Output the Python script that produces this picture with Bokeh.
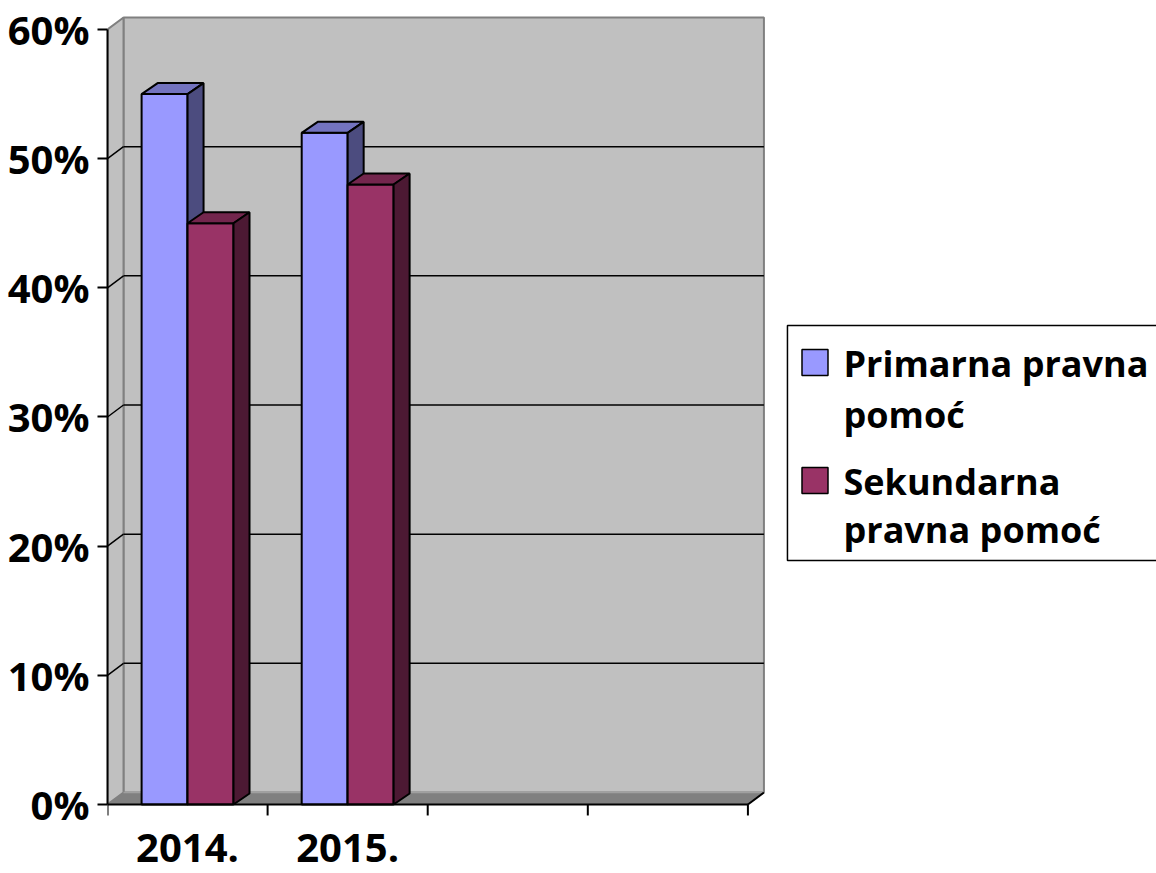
from bokeh.plotting import figure
from bokeh.models import Range1d, FixedTicker
from bokeh.core.properties import value
from bokeh.embed import file_html
from bokeh.resources import INLINE

# ---------------- data ----------------
categories = ["2014.", "2015."]
primarna = [55, 52]
sekundarna = [45, 48]
series_names = ["Primarna pravna pomoć", "Sekundarna pravna pomoć"]
legend_lines = [["Primarna pravna", "pomoć"], ["Sekundarna", "pravna pomoć"]]
y_ticks = [0, 10, 20, 30, 40, 50, 60]
y_tick_labels = ["0%", "10%", "20%", "30%", "40%", "50%", "60%"]

# ---------------- style ----------------
N_SLOTS = 4
Y_MAX = 60
WALL_DX, WALL_DY = 0.10, 0.93
BAR_DX, BAR_DY = 0.10, 0.85
BAR_W = 0.287
TICK_LEN = 0.85
TEXT_SHIFT = 1.08   # compensates the svg baseline offset
CAT_LABEL_Y = -4.41
FONT = "Open Sans"
FRONT = ["#9999FF", "#993366"]
TOP = ["#7373BF", "#73264D"]
SIDE = ["#4C4C7F", "#4C1933"]

p = figure(width=1156, height=873,
           x_range=Range1d(0, 6.552), y_range=Range1d(-5.342, 61.316),
           output_backend="svg", toolbar_location=None,
           x_axis_location=None,
           min_border_left=107, min_border_right=0,
           min_border_top=12, min_border_bottom=0)
p.xgrid.visible = False
p.ygrid.visible = False
p.outline_line_color = None
p.background_fill_color = "white"

# back wall
p.patch([WALL_DX, N_SLOTS + WALL_DX, N_SLOTS + WALL_DX, WALL_DX],
        [WALL_DY, WALL_DY, Y_MAX + WALL_DY, Y_MAX + WALL_DY],
        fill_color="#C0C0C0", line_color="#808080", line_width=2)
# side wall
p.patch([0, WALL_DX, WALL_DX, 0],
        [0, WALL_DY, Y_MAX + WALL_DY, Y_MAX],
        fill_color="#C0C0C0", line_color="#808080", line_width=2)
# floor
p.patch([0, N_SLOTS, N_SLOTS + WALL_DX, WALL_DX],
        [0, 0, WALL_DY, WALL_DY],
        fill_color="#808080", line_color="#808080", line_width=1)
p.segment(x0=[WALL_DX], y0=[WALL_DY], x1=[N_SLOTS + WALL_DX], y1=[WALL_DY],
          line_color="#A0A0A0", line_width=1.5)
p.segment(x0=[N_SLOTS], y0=[0], x1=[N_SLOTS + WALL_DX], y1=[WALL_DY],
          line_color="black", line_width=2)

# gridlines (side wall + back wall)
gv = [v for v in y_ticks if 0 < v < Y_MAX]
p.segment(x0=[0] * len(gv), y0=gv,
          x1=[WALL_DX] * len(gv), y1=[v + WALL_DY for v in gv],
          line_color="black", line_width=1.5)
p.segment(x0=[WALL_DX] * len(gv), y0=[v + WALL_DY for v in gv],
          x1=[N_SLOTS + WALL_DX] * len(gv), y1=[v + WALL_DY for v in gv],
          line_color="black", line_width=1.5)

# 3D bars
series = [primarna, sekundarna]
for i, cat in enumerate(categories):
    c = i + 0.5
    for s, vals in enumerate(series):
        v = vals[i]
        x0 = c - BAR_W + s * BAR_W
        x1 = x0 + BAR_W
        p.quad(left=[x0], right=[x1], bottom=[0], top=[v],
               fill_color=FRONT[s], line_color="black", line_width=2)
        p.patch([x0, x1, x1 + BAR_DX, x0 + BAR_DX], [v, v, v + BAR_DY, v + BAR_DY],
                fill_color=TOP[s], line_color="black", line_width=2)
        p.patch([x1, x1, x1 + BAR_DX, x1 + BAR_DX], [0, v, v + BAR_DY, BAR_DY],
                fill_color=SIDE[s], line_color="black", line_width=2)

# category (x) axis: line, ticks and labels
p.segment(x0=[0], y0=[0], x1=[N_SLOTS], y1=[0], line_color="black", line_width=2)
xt = list(range(N_SLOTS + 1))
p.segment(x0=xt, y0=[0] * len(xt), x1=xt, y1=[-TICK_LEN] * len(xt),
          line_color="black", line_width=2)
p.text(x=[k + 0.5 for k in range(len(categories))],
       y=[CAT_LABEL_Y + TEXT_SHIFT] * len(categories),
       text=categories, text_font=value(FONT), text_font_style="bold",
       text_font_size="40px", text_align="center", text_baseline="alphabetic",
       text_color="black")

# y axis
ya = p.yaxis[0]
ya.ticker = FixedTicker(ticks=y_ticks, minor_ticks=[])
ya.major_label_overrides = {float(t): l for t, l in zip(y_ticks, y_tick_labels)}
ya.bounds = (0, Y_MAX)
ya.axis_line_color = "black"
ya.axis_line_width = 2
ya.major_tick_line_color = "black"
ya.major_tick_line_width = 2
ya.major_tick_out = 10
ya.major_tick_in = 0
ya.minor_tick_out = 0
ya.minor_tick_in = 0
ya.major_label_standoff = 8
ya.major_label_text_font = FONT
ya.major_label_text_font_style = "bold"
ya.major_label_text_font_size = "40px"
ya.major_label_text_color = "black"

# legend (drawn)
p.quad(left=[4.247], right=[7.0], bottom=[18.89], top=[37.08],
       fill_color="white", line_color="black", line_width=1.5)
p.scatter(x=[4.419, 4.419], y=[34.22, 25.08], marker="square", size=26,
          fill_color=FRONT, line_color="black", line_width=1.5)
leg_y = [[33.06, 29.11], [23.92, 20.21]]
tx, ty, tt = [], [], []
for k, lines in enumerate(legend_lines):
    for j, line in enumerate(lines):
        tx.append(4.597)
        ty.append(leg_y[k][j] + TEXT_SHIFT)
        tt.append(line)
p.text(x=tx, y=ty, text=tt, text_font=value(FONT), text_font_style="bold",
       text_font_size="36px", text_baseline="alphabetic", text_align="left",
       text_color="black")

open("out.html", "w").write(file_html(p, INLINE))
